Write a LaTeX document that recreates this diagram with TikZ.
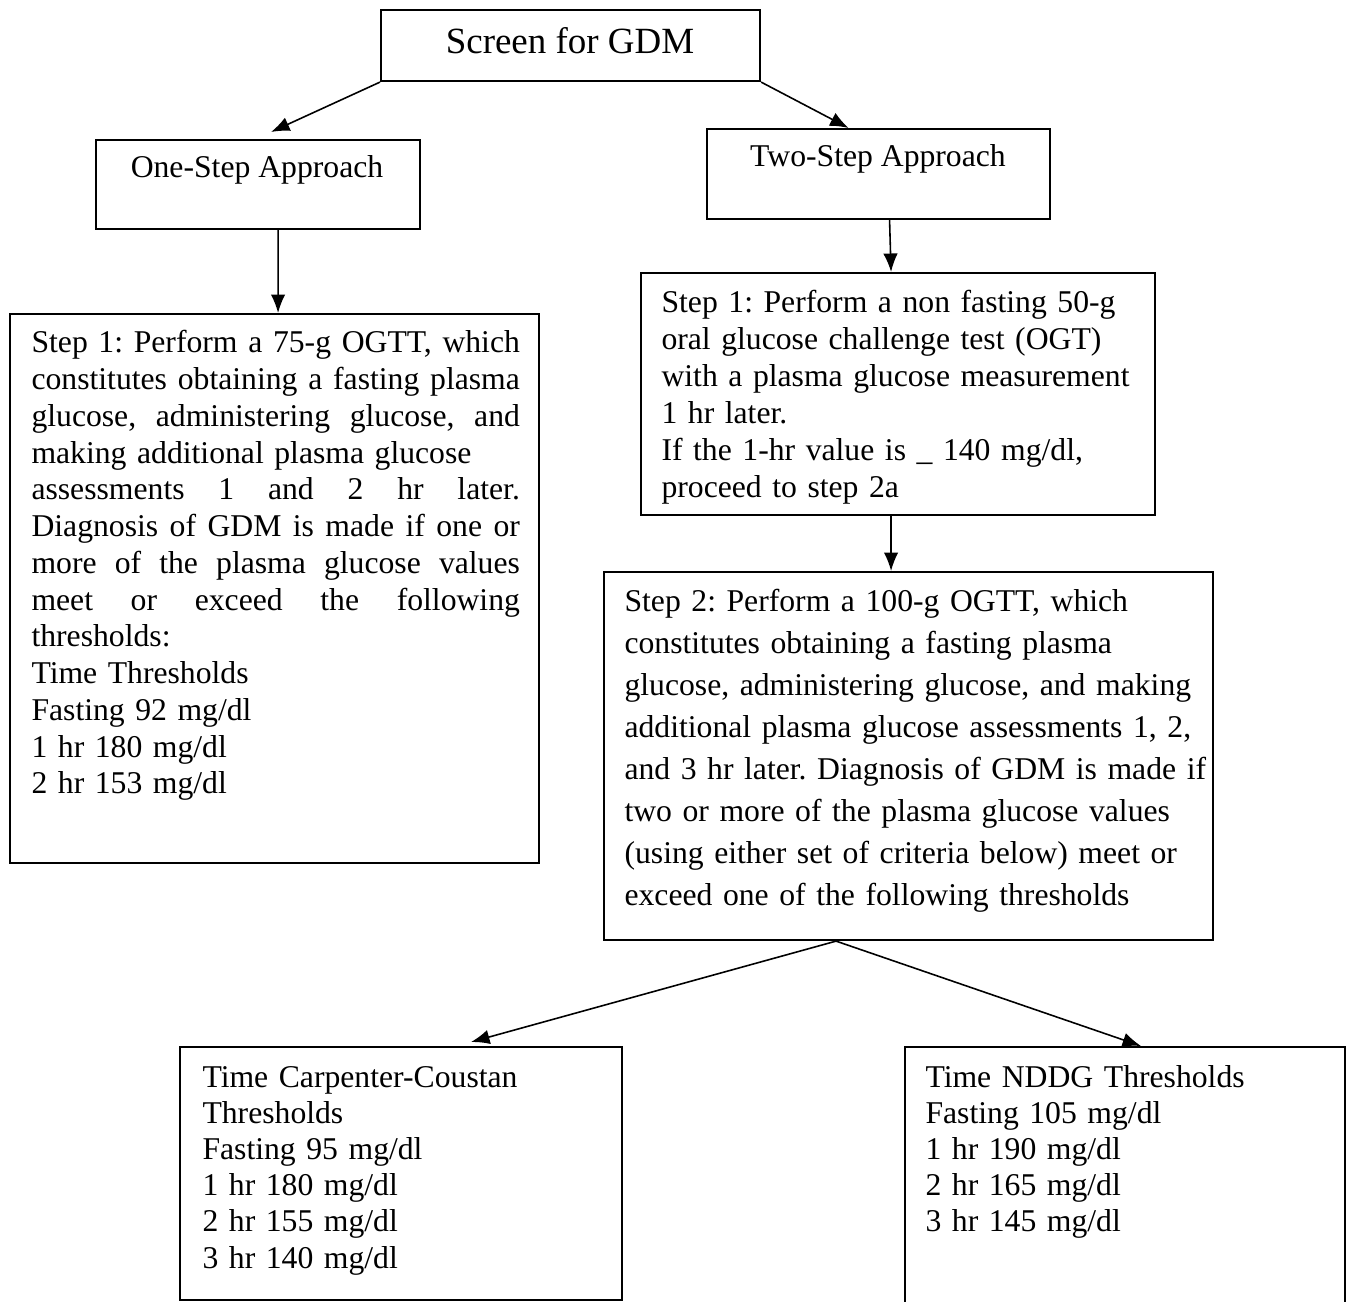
\documentclass[tikz,border=0pt]{standalone}
\usepackage{fontspec}
\setmainfont{Liberation Serif}
\usetikzlibrary{arrows.meta}
\frenchspacing

\def\pxu{0.3788pt}
\newcommand{\jline}[1]{\leavevmode\hbox to 185pt{\spaceskip=3pt plus 1fil minus 1pt\relax #1}}

\tikzset{
  box/.style={draw, line width=0.8pt, inner sep=0pt, anchor=north west},
  txt/.style={inner sep=0pt, anchor=base west,
    font=\fontsize{12pt}{13.9pt}\selectfont},
  arr/.style={-{Latex[length=7pt,width=5.5pt]}, line width=0.6pt}
}

\begin{document}
\begin{tikzpicture}[x=\pxu, y=-\pxu]
  \clip (0,0) rectangle (1348,1302);

  % boxes
  \node[box, minimum width=379*\pxu, minimum height=71*\pxu] (screen) at (380,9) {};
  \node[box, minimum width=324*\pxu, minimum height=89*\pxu] (one) at (95,139) {};
  \node[box, minimum width=343*\pxu, minimum height=90*\pxu] (two) at (706,128) {};
  \node[box, minimum width=529*\pxu, minimum height=549*\pxu] (onestep) at (9,313) {};
  \node[box, minimum width=514*\pxu, minimum height=242*\pxu] (stepa) at (640,272) {};
  \node[box, minimum width=609*\pxu, minimum height=368*\pxu] (stepb) at (603,571) {};
  \node[box, minimum width=442*\pxu, minimum height=253*\pxu] (cc) at (179,1046) {};
  \node[box, minimum width=440*\pxu, minimum height=290*\pxu] (nddg) at (904,1046) {};

  % texts
  \node[txt, anchor=base, font=\fontsize{14pt}{16pt}\selectfont] (screentxt) at (570,54) {Screen for GDM};
  \node[txt, anchor=base] (onetxt) at (257,178) {One-Step Approach};
  \node[txt, anchor=base] (twotxt) at (878,167) {Two-Step Approach};

  \node[txt, text width=190pt, font=\fontsize{12pt}{13.92pt}\selectfont] (onesteptxt) at (31,353) {%
    \jline{Step 1: Perform a 75-g OGTT, which}\\
    \jline{constitutes obtaining a fasting plasma}\\
    \jline{glucose, administering glucose, and}\\
    making additional plasma glucose\\
    \jline{assessments 1 and 2 hr later.}\\
    \jline{Diagnosis of GDM is made if one or}\\
    \jline{more of the plasma glucose values}\\
    \jline{meet or exceed the following}\\
    thresholds:\\
    Time Thresholds\\
    Fasting 92 mg/dl\\
    1 hr 180 mg/dl\\
    2 hr 153 mg/dl};

  \node[txt, text width=197pt, font=\fontsize{12pt}{13.94pt}\selectfont] (stepatxt) at (661,313) {%
    Step 1: Perform a non fasting 50-g\\
    oral glucose challenge test (OGT)\\
    with a plasma glucose measurement\\
    1 hr later.\\
    If the 1-hr value is \_ 140 mg/dl,\\
    proceed to step 2a};

  \node[txt, text width=227pt, font=\fontsize{12pt}{15.95pt}\selectfont] (stepbtxt) at (624,611) {%
    Step 2: Perform a 100-g OGTT, which\\
    constitutes obtaining a fasting plasma\\
    glucose, administering glucose, and making\\
    additional plasma glucose assessments 1, 2,\\
    and 3 hr later. Diagnosis of GDM is made if\\
    two or more of the plasma glucose values\\
    (using either set of criteria below) meet or\\
    exceed one of the following thresholds};

  \node[txt, text width=160pt, font=\fontsize{12pt}{13.72pt}\selectfont] (cctxt) at (202,1087) {%
    Time Carpenter-Coustan\\
    Thresholds\\
    Fasting 95 mg/dl\\
    1 hr 180 mg/dl\\
    2 hr 155 mg/dl\\
    3 hr 140 mg/dl};

  \node[txt, text width=160pt, font=\fontsize{12pt}{13.72pt}\selectfont] (nddgtxt) at (925,1087) {%
    Time NDDG Thresholds\\
    Fasting 105 mg/dl\\
    1 hr 190 mg/dl\\
    2 hr 165 mg/dl\\
    3 hr 145 mg/dl};

  % arrows
  \draw[arr] (screen.south west) -- ([shift={(13,-7)}]one.north);
  \draw[arr] (screen.south east) -- ([shift={(-30,0)}]two.north);
  \draw[arr] ([shift={(20,0)}]one.south) -- ([shift={(3.5,0)}]onestep.north);
  \draw[arr] ([shift={(11,0)}]two.south) -- ([shift={(-7,0)}]stepa.north);
  \draw[arr] ([shift={(-7,0)}]stepa.south) -- ([shift={(-17.5,0)}]stepb.north);
  \draw[arr] ([shift={(-72.5,0)}]stepb.south) -- ([shift={(70,-4)}]cc.north);
  \draw[arr] ([shift={(-72.5,0)}]stepb.south) -- ([shift={(16,0)}]nddg.north);
\end{tikzpicture}
\end{document}
